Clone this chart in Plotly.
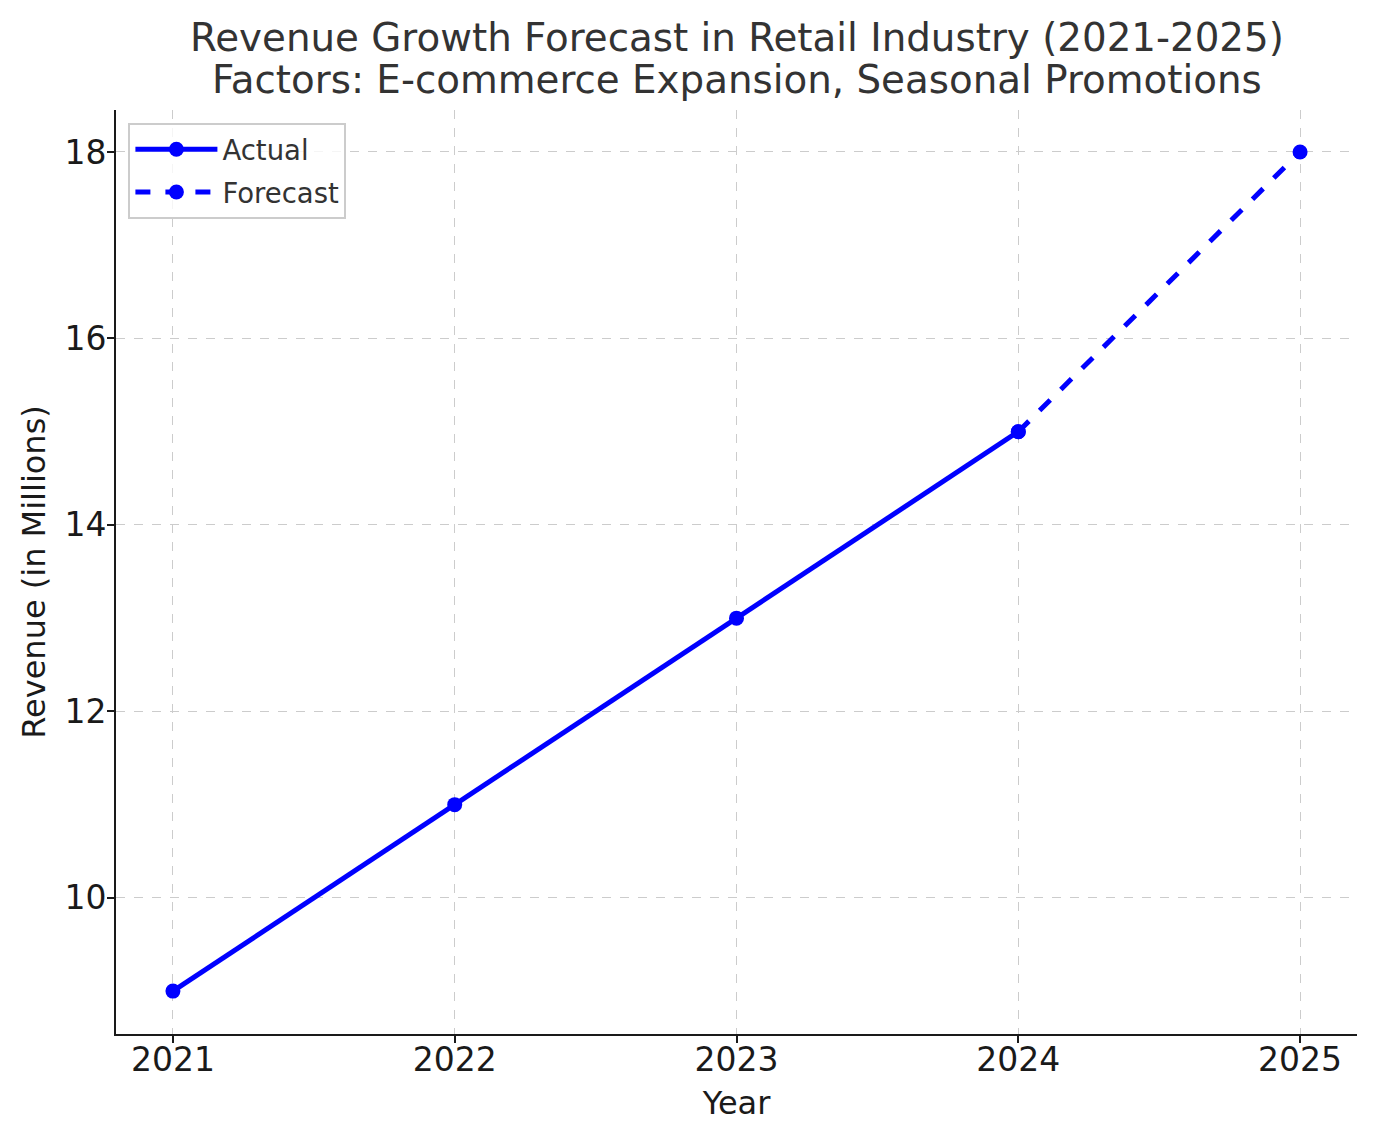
import plotly.graph_objects as go

years_actual = [2021, 2022, 2023, 2024]
revenue_actual = [9, 11, 13, 15]
years_forecast = [2024, 2025]
revenue_forecast = [15, 18]
x_ticks = [2021, 2022, 2023, 2024, 2025]
y_ticks = [10, 12, 14, 16, 18]
title_lines = ["Revenue Growth Forecast in Retail Industry (2021-2025)",
               "Factors: E-commerce Expansion, Seasonal Promotions"]

FONT = "DejaVu Sans"
fig = go.Figure()
fig.add_trace(go.Scatter(x=years_actual, y=revenue_actual, mode="lines+markers", name="Actual",
                         legendgroup="a",
                         line=dict(color="#0000ff", width=5), marker=dict(size=15, color="#0000ff")))
fig.add_trace(go.Scatter(x=years_forecast, y=revenue_forecast, mode="lines+markers", name="Forecast",
                         legendgroup="b",
                         line=dict(color="#0000ff", width=5, dash="dash"), marker=dict(size=15, color="#0000ff")))

for i, (txt, yy) in enumerate(zip(title_lines, [1.079, 1.0325])):
    fig.add_annotation(text=txt, xref="paper", yref="paper", x=0.5, y=yy, xanchor="center", yanchor="middle",
                       showarrow=False, font=dict(family=FONT, size=38.8, color="#333333"))

fig.update_layout(
    width=1376, height=1141,
    paper_bgcolor="white", plot_bgcolor="white",
    margin=dict(l=108, r=27, t=102, b=115),
    font=dict(family=FONT, color="#1a1a1a"),
    legend=dict(x=0.01, y=0.986, xanchor="left", yanchor="top",
                bgcolor="rgba(255,255,255,0.8)", bordercolor="#cccccc", borderwidth=2,
                itemwidth=82, tracegroupgap=4,
                font=dict(family=FONT, size=27.5, color="#333333")),
    showlegend=True,
)
fig.update_xaxes(range=[2020.798, 2025.202], tickvals=x_ticks, ticktext=[str(v) for v in x_ticks],
                 showline=True, linecolor="#1a1a1a", linewidth=2, mirror=False,
                 ticks="outside", ticklen=7, tickwidth=2, tickcolor="#1a1a1a",
                 ticklabelstandoff=-12,
                 showgrid=True, gridcolor="#cccccc", griddash="dash", gridwidth=1, zeroline=False,
                 tickfont=dict(family=FONT, size=33, color="#1a1a1a"),
                 title=dict(text="Year", font=dict(family=FONT, size=32, color="#1a1a1a"), standoff=14))
fig.update_yaxes(range=[8.54, 18.45], tickvals=y_ticks, ticktext=[str(v) for v in y_ticks],
                 showline=True, linecolor="#1a1a1a", linewidth=2, mirror=False,
                 ticks="outside", ticklen=7, tickwidth=2, tickcolor="#1a1a1a",
                 ticklabelstandoff=-6,
                 showgrid=True, gridcolor="#cccccc", griddash="dash", gridwidth=1, zeroline=False,
                 tickfont=dict(family=FONT, size=33, color="#1a1a1a"),
                 title=dict(text="Revenue (in Millions)", font=dict(family=FONT, size=32, color="#1a1a1a"), standoff=9))

fig.write_html("out.html")
